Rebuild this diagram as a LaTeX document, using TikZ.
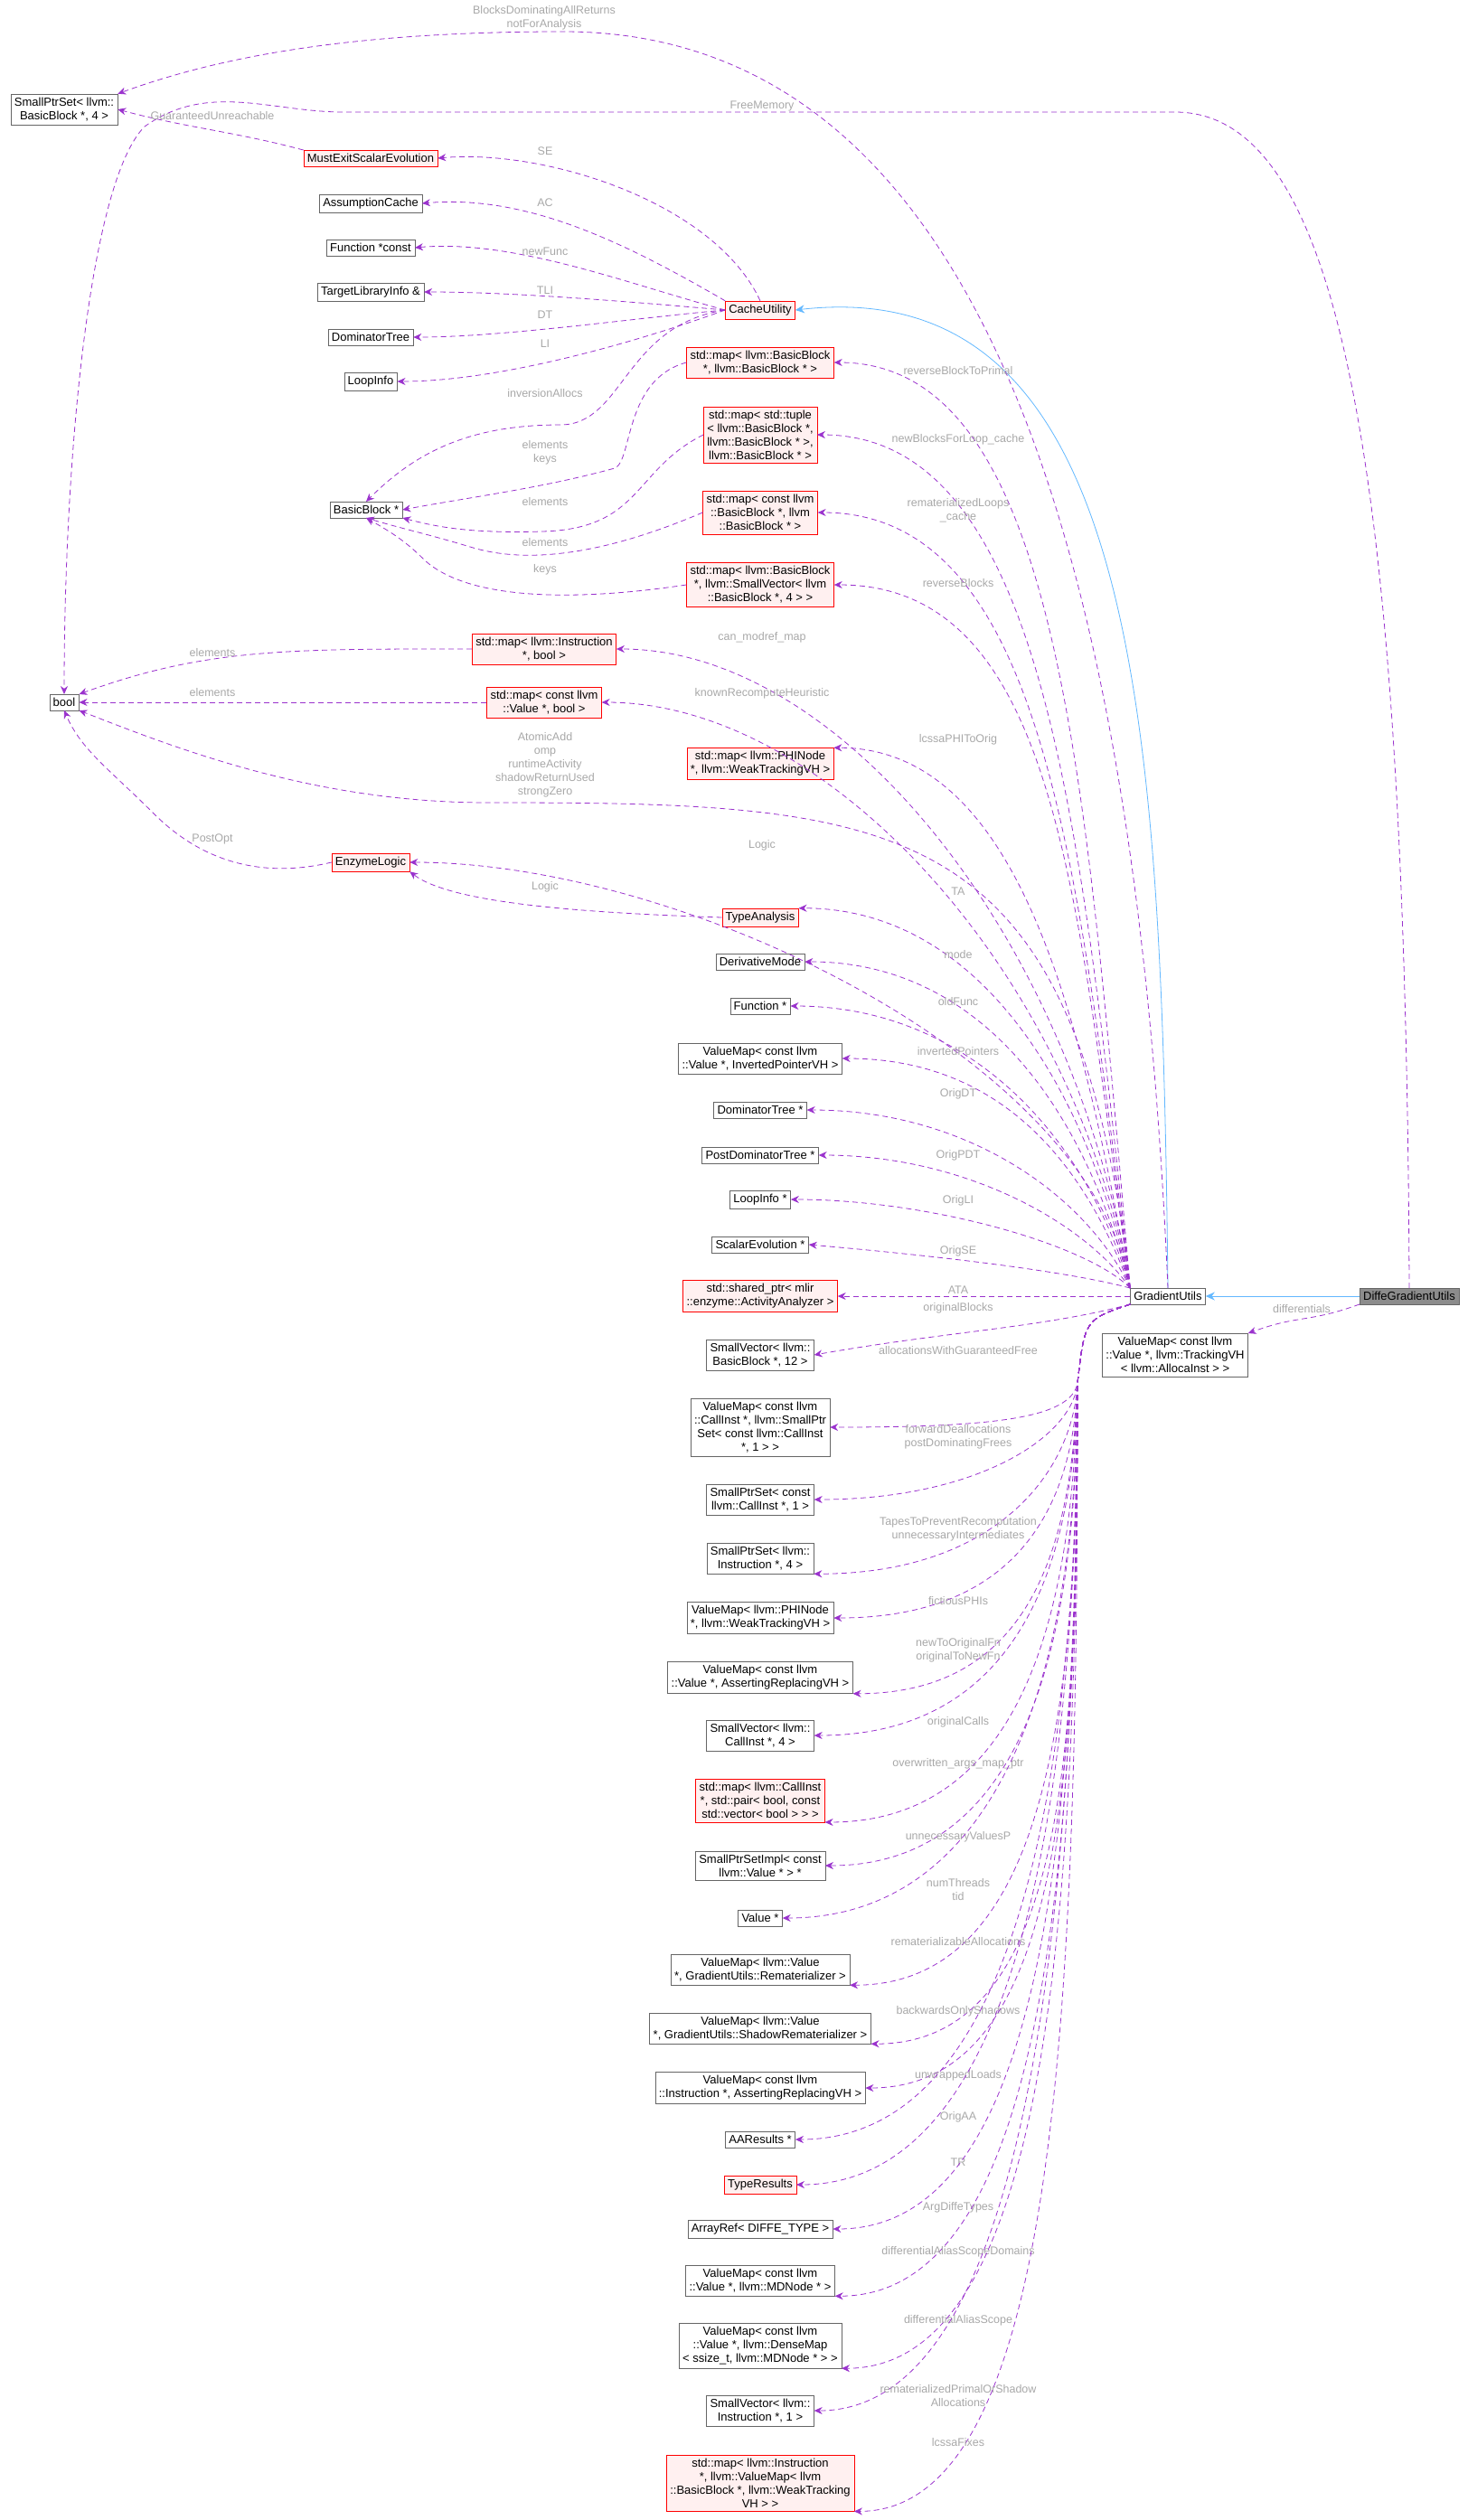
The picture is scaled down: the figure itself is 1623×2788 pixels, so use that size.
\documentclass[tikz,border=0pt]{standalone}
\usepackage{fontspec}
\setmainfont{Liberation Sans}
\usetikzlibrary{arrows.meta}
\definecolor{depcol}{HTML}{9A32CD}
\definecolor{inhcol}{HTML}{63B8FF}
\definecolor{lblcol}{HTML}{A8A8A8}
\definecolor{redfill}{HTML}{FFF0F0}
\tikzset{
  cls/.style={draw=black!60, fill=white, inner sep=4pt, align=center, font=\fontsize{13}{15}\selectfont},
  redcls/.style={cls, draw=red, fill=redfill},
  dep/.style={draw=depcol, dash pattern=on 6pt off 4pt, line width=0.8pt, -{Stealth[length=9pt,width=8pt]}},
  inh/.style={draw=inhcol, line width=0.8pt, -{Stealth[length=10pt,width=9pt]}},
  lbl/.style={text=lblcol, align=center, font=\fontsize{12.5}{15}\selectfont, inner sep=1pt}
}
\begin{document}
\begin{tikzpicture}[x=1pt,y=-1pt]
\useasboundingbox (0,0) rectangle (1623,2788);
% left column
\node[cls] (sps) at (71,121) {SmallPtrSet< llvm::\\BasicBlock *, 4 >};
\node[cls] (bool) at (71,777) {bool};
\node[redcls] (mustexit) at (410,175) {MustExitScalarEvolution};
\node[cls] (ac) at (410,225) {AssumptionCache};
\node[cls] (fconst) at (410,274) {Function *const};
\node[cls] (tli) at (410,323) {TargetLibraryInfo \&};
\node[cls] (dt) at (410,373) {DominatorTree};
\node[cls] (li) at (410,422) {LoopInfo};
\node[cls] (bb) at (405,564) {BasicBlock *};
\node[redcls] (enzlogic) at (410,954) {EnzymeLogic};
\node[redcls] (mapinst) at (602,718) {std::map< llvm::Instruction\\*, bool >};
\node[redcls] (mapval) at (602,777) {std::map< const llvm\\::Value *, bool >};
% middle column
\node[redcls] (cache) at (841,343) {CacheUtility};
\node[redcls] (mapbb) at (841,401) {std::map< llvm::BasicBlock\\*, llvm::BasicBlock * >};
\node[redcls] (maptuple) at (841,481) {std::map< std::tuple\\< llvm::BasicBlock *,\\llvm::BasicBlock * >,\\llvm::BasicBlock * >};
\node[redcls] (mapcbb) at (841,567) {std::map< const llvm\\::BasicBlock *, llvm\\::BasicBlock * >};
\node[redcls] (mapsv) at (841,647) {std::map< llvm::BasicBlock\\*, llvm::SmallVector< llvm\\::BasicBlock *, 4 > >};
\node[redcls] (mapphi) at (841,845) {std::map< llvm::PHINode\\*, llvm::WeakTrackingVH >};
\node[redcls] (ta) at (841,1015) {TypeAnalysis};
\node[cls] (dmode) at (841,1064) {DerivativeMode};
\node[cls] (func) at (841,1113) {Function *};
\node[cls] (vminv) at (841,1171) {ValueMap< const llvm\\::Value *, InvertedPointerVH >};
\node[cls] (dtp) at (841,1228) {DominatorTree *};
\node[cls] (pdtp) at (841,1278) {PostDominatorTree *};
\node[cls] (lip) at (841,1327) {LoopInfo *};
\node[cls] (sep) at (841,1377) {ScalarEvolution *};
\node[redcls] (ata) at (841,1434) {std::shared\_ptr< mlir\\::enzyme::ActivityAnalyzer >};
\node[cls] (svbb) at (841,1499) {SmallVector< llvm::\\BasicBlock *, 12 >};
\node[cls] (vmcall) at (841,1579) {ValueMap< const llvm\\::CallInst *, llvm::SmallPtr\\Set< const llvm::CallInst\\*, 1 > >};
\node[cls] (spscall) at (841,1659) {SmallPtrSet< const\\llvm::CallInst *, 1 >};
\node[cls] (spsinst) at (841,1724) {SmallPtrSet< llvm::\\Instruction *, 4 >};
\node[cls] (vmphi) at (841,1790) {ValueMap< llvm::PHINode\\*, llvm::WeakTrackingVH >};
\node[cls] (vmarv) at (841,1856) {ValueMap< const llvm\\::Value *, AssertingReplacingVH >};
\node[cls] (svcall) at (841,1920) {SmallVector< llvm::\\CallInst *, 4 >};
\node[redcls] (mappair) at (841,1992) {std::map< llvm::CallInst\\*, std::pair< bool, const\\std::vector< bool > > >};
\node[cls] (spsimpl) at (841,2064) {SmallPtrSetImpl< const\\llvm::Value * > *};
\node[cls] (valp) at (841,2122) {Value *};
\node[cls] (vmremat) at (841,2179) {ValueMap< llvm::Value\\*, GradientUtils::Rematerializer >};
\node[cls] (vmshadow) at (841,2244) {ValueMap< llvm::Value\\*, GradientUtils::ShadowRematerializer >};
\node[cls] (vminst) at (841,2310) {ValueMap< const llvm\\::Instruction *, AssertingReplacingVH >};
\node[cls] (aares) at (841,2367) {AAResults *};
\node[redcls] (tr) at (841,2417) {TypeResults};
\node[cls] (arrref) at (841,2466) {ArrayRef< DIFFE\_TYPE >};
\node[cls] (vmmd) at (841,2523) {ValueMap< const llvm\\::Value *, llvm::MDNode * >};
\node[cls] (vmdense) at (841,2595) {ValueMap< const llvm\\::Value *, llvm::DenseMap\\< ssize\_t, llvm::MDNode * > >};
\node[cls] (svinst) at (841,2667) {SmallVector< llvm::\\Instruction *, 1 >};
\node[redcls] (mapfix) at (841,2747) {std::map< llvm::Instruction\\*, llvm::ValueMap< llvm\\::BasicBlock *, llvm::WeakTracking\\VH > >};
% right
\node[cls] (gu) at (1292,1434) {GradientUtils};
\node[cls, fill=black!45] (dgu) at (1559,1434) {DiffeGradientUtils};
\node[cls] (vmtrack) at (1300,1499) {ValueMap< const llvm\\::Value *, llvm::TrackingVH\\< llvm::AllocaInst > >};
\coordinate (gubend) at (1192,1530);

% inheritance
\draw[inh] (dgu.west) -- (gu.east);
\draw[inh] (gu.north) .. controls (1285,800) and (1260,300) .. (cache.east);

% DiffeGradientUtils
\draw[dep] (dgu.north) .. controls (1555,500) and (1480,124) .. (1300,124) -- (380,124) .. controls (300,124) and (230,90) .. (160,140) .. controls (100,200) and (71,500) .. (bool.north);
\node[lbl] (l-free) at (843,117) {FreeMemory};
\draw[dep] (dgu.south west) .. controls +(-200:60) and +(-20:60) .. (vmtrack.north east);
\node[lbl] (l-diff) at (1440,1448) {differentials};

% CacheUtility
\draw[dep] (mustexit.north west) .. controls +(-165:80) and +(15:80) .. (sps.east);
\node[lbl] (l-gu) at (235,128) {GuaranteedUnreachable};
\draw[dep] (cache.north) .. controls +(-115:120) and +(-5:120) .. (mustexit.east);
\node[lbl] (l-se) at (603,167) {SE};
\draw[dep] (cache.north west) .. controls +(-150:120) and +(-5:120) .. (ac.east);
\node[lbl] (l-ac) at (603,224) {AC};
\draw[dep] (cache.west) .. controls +(-165:110) and +(-5:110) .. (fconst.east);
\node[lbl] (l-nf) at (603,278) {newFunc};
\draw[dep] (cache.west) .. controls +(-175:100) and +(0:100) .. (tli.east);
\node[lbl] (l-tli) at (603,321) {TLI};
\draw[dep] (cache.west) .. controls +(-185:100) and +(0:100) .. (dt.east);
\node[lbl] (l-dt) at (603,348) {DT};
\draw[dep] (cache.west) .. controls +(-200:110) and +(0:110) .. (li.east);
\node[lbl] (l-li) at (603,380) {LI};
\draw[dep] (cache.west) .. controls (690,360) and (690,470) .. (620,470) .. controls (520,470) and (460,500) .. (bb.north);
\node[lbl] (l-inv) at (603,435) {inversionAllocs};

% BasicBlock
\draw[dep] (mapbb.west) .. controls (690,420) and (700,510) .. (680,518) .. controls (600,540) and (520,550) .. (bb.east);
\node[lbl] (l-ek) at (603,501) {elements\\keys};
\draw[dep] (maptuple.west) .. controls (700,520) and (710,585) .. (600,588) .. controls (530,590) and (490,585) .. (bb.south east);
\node[lbl] (l-el1) at (603,555) {elements};
\draw[dep] (mapcbb.west) .. controls (700,600) and (600,630) .. (520,605) .. controls (470,590) and (445,585) .. (bb.south);
\node[lbl] (l-el2) at (603,600) {elements};
\draw[dep] (mapsv.west) .. controls (640,665) and (520,665) .. (470,620) .. controls (450,600) and (435,590) .. (bb.south);
\node[lbl] (l-keys) at (603,630) {keys};

% bool
\draw[dep] (mapinst.west) .. controls +(-180:200) and +(-20:150) .. (bool.north east);
\node[lbl] (l-el3) at (235,722) {elements};
\draw[dep] (mapval.west) -- (bool.east);
\node[lbl] (l-el4) at (235,766) {elements};
\draw[dep] (enzlogic.west) .. controls (300,970) and (230,960) .. (170,900) .. controls (120,850) and (90,830) .. (bool.south);
\node[lbl] (l-po) at (235,928) {PostOpt};
\draw[dep] (ta.west) .. controls (650,1010) and (500,1000) .. (enzlogic.south east);
\node[lbl] (l-lg2) at (603,981) {Logic};

% GradientUtils members above
\draw[dep] (gu.north) .. controls (1260,700) and (1120,35) .. (623,35) .. controls (400,35) and (250,60) .. (sps.north east);
\node[lbl] (l-bda) at (602,20) {BlocksDominatingAllReturns\\notForAnalysis};
\draw[dep] (gu.north west) .. controls +(-95:560) and +(0:250) .. (mapbb.east);
\node[lbl] (l-rbp) at (1060,410) {reverseBlockToPrimal};
\draw[dep] (gu.north west) .. controls +(-96:520) and +(0:250) .. (maptuple.east);
\node[lbl] (l-nbl) at (1060,486) {newBlocksForLoop\_cache};
\draw[dep] (gu.north west) .. controls +(-97:470) and +(0:250) .. (mapcbb.east);
\node[lbl] (l-rl) at (1060,565) {rematerializedLoops\\\_cache};
\draw[dep] (gu.north west) .. controls +(-98:425) and +(0:250) .. (mapsv.east);
\node[lbl] (l-rb) at (1060,645) {reverseBlocks};
\draw[dep] (gu.north west) .. controls +(-99:390) and +(0:250) .. (mapinst.east);
\node[lbl] (l-cmm) at (843,705) {can\_modref\_map};
\draw[dep] (gu.north west) .. controls +(-100:355) and +(0:250) .. (mapval.east);
\node[lbl] (l-krh) at (843,767) {knownRecomputeHeuristic};
\draw[dep] (gu.north west) .. controls +(-100:320) and +(0:200) .. (mapphi.north east);
\node[lbl] (l-lpo) at (1060,818) {lcssaPHIToOrig};
\draw[dep] (gu.north west) .. controls (1190,900) and (1000,888) .. (540,888) .. controls (350,888) and (200,830) .. (bool.south east);
\node[lbl] (l-aa) at (603,846) {AtomicAdd\\omp\\runtimeActivity\\shadowReturnUsed\\strongZero};
\draw[dep] (gu.north west) .. controls +(-100:260) and +(0:300) .. (enzlogic.east);
\node[lbl] (l-lg1) at (843,935) {Logic};
\draw[dep] (gu.north west) .. controls +(-102:225) and +(0:200) .. (ta.north east);
\node[lbl] (l-ta) at (1060,986) {TA};
\draw[dep] (gu.north west) .. controls +(-104:195) and +(0:200) .. (dmode.east);
\node[lbl] (l-mode) at (1060,1056) {mode};
\draw[dep] (gu.north west) .. controls +(-106:170) and +(0:200) .. (func.east);
\node[lbl] (l-of) at (1060,1108) {oldFunc};
\draw[dep] (gu.north west) .. controls +(-110:140) and +(0:180) .. (vminv.east);
\node[lbl] (l-ip) at (1060,1163) {invertedPointers};
\draw[dep] (gu.north west) .. controls +(-115:110) and +(0:180) .. (dtp.east);
\node[lbl] (l-odt) at (1060,1210) {OrigDT};
\draw[dep] (gu.north west) .. controls +(-125:90) and +(0:160) .. (pdtp.east);
\node[lbl] (l-opdt) at (1060,1278) {OrigPDT};
\draw[dep] (gu.north west) .. controls +(-135:70) and +(0:150) .. (lip.east);
\node[lbl] (l-oli) at (1060,1328) {OrigLI};
\draw[dep] (gu.north west) .. controls +(-165:80) and +(5:120) .. (sep.east);
\node[lbl] (l-ose) at (1060,1384) {OrigSE};
\draw[dep] (gu.west) -- (ata.east);
\node[lbl] (l-ata) at (1060,1427) {ATA};

% GradientUtils members below
\draw[dep] (gu.south west) .. controls +(-195:100) and +(-10:150) .. (svbb.east);
\node[lbl] (l-ob) at (1060,1447) {originalBlocks};
\draw[dep] (gu.south west) .. controls (1200,1460) .. (gubend) .. controls +(100:40) and +(0:180) .. (vmcall.east);
\node[lbl] (l-awg) at (1060,1494) {allocationsWithGuaranteedFree};
\draw[dep] (gu.south west) .. controls (1200,1460) .. (gubend) .. controls +(95:60) and +(0:180) .. (spscall.east);
\node[lbl] (l-fd) at (1060,1590) {forwardDeallocations\\postDominatingFrees};
\draw[dep] (gu.south west) .. controls (1200,1460) .. (gubend) .. controls +(93:100) and +(0:200) .. (spsinst.south east);
\node[lbl] (l-tp) at (1060,1692) {TapesToPreventRecomputation\\unnecessaryIntermediates};
\draw[dep] (gu.south west) .. controls (1200,1460) .. (gubend) .. controls +(92:140) and +(0:200) .. (vmphi.east);
\node[lbl] (l-fp) at (1060,1771) {fictiousPHIs};
\draw[dep] (gu.south west) .. controls (1200,1460) .. (gubend) .. controls +(92:175) and +(0:200) .. (vmarv.south east);
\node[lbl] (l-nto) at (1060,1826) {newToOriginalFn\\originalToNewFn};
\draw[dep] (gu.south west) .. controls (1200,1460) .. (gubend) .. controls +(91:210) and +(0:220) .. (svcall.east);
\node[lbl] (l-oc) at (1060,1905) {originalCalls};
\draw[dep] (gu.south west) .. controls (1200,1460) .. (gubend) .. controls +(91:250) and +(0:220) .. (mappair.south east);
\node[lbl] (l-ow) at (1060,1951) {overwritten\_args\_map\_ptr};
\draw[dep] (gu.south west) .. controls (1200,1460) .. (gubend) .. controls +(90:290) and +(0:220) .. (spsimpl.east);
\node[lbl] (l-uvp) at (1060,2032) {unnecessaryValuesP};
\draw[dep] (gu.south west) .. controls (1200,1460) .. (gubend) .. controls +(90:320) and +(0:240) .. (valp.east);
\node[lbl] (l-nt) at (1060,2091) {numThreads\\tid};
\draw[dep] (gu.south west) .. controls (1200,1460) .. (gubend) .. controls +(90:350) and +(0:220) .. (vmremat.south east);
\node[lbl] (l-ra) at (1060,2148) {rematerializableAllocations};
\draw[dep] (gu.south west) .. controls (1200,1460) .. (gubend) .. controls +(90:390) and +(0:220) .. (vmshadow.south east);
\node[lbl] (l-bos) at (1060,2225) {backwardsOnlyShadows};
\draw[dep] (gu.south west) .. controls (1200,1460) .. (gubend) .. controls +(90:425) and +(0:220) .. (vminst.east);
\node[lbl] (l-ul) at (1060,2296) {unwrappedLoads};
\draw[dep] (gu.south west) .. controls (1200,1460) .. (gubend) .. controls +(90:455) and +(0:240) .. (aares.east);
\node[lbl] (l-oaa) at (1060,2342) {OrigAA};
\draw[dep] (gu.south west) .. controls (1200,1460) .. (gubend) .. controls +(90:480) and +(0:240) .. (tr.east);
\node[lbl] (l-tr) at (1060,2392) {TR};
\draw[dep] (gu.south west) .. controls (1200,1460) .. (gubend) .. controls +(90:510) and +(0:230) .. (arrref.east);
\node[lbl] (l-adt) at (1060,2442) {ArgDiffeTypes};
\draw[dep] (gu.south west) .. controls (1200,1460) .. (gubend) .. controls +(90:540) and +(0:230) .. (vmmd.south east);
\node[lbl] (l-dasd) at (1060,2491) {differentialAliasScopeDomains};
\draw[dep] (gu.south west) .. controls (1200,1460) .. (gubend) .. controls +(90:580) and +(0:230) .. (vmdense.south east);
\node[lbl] (l-das) at (1060,2567) {differentialAliasScope};
\draw[dep] (gu.south west) .. controls (1200,1460) .. (gubend) .. controls +(90:620) and +(0:230) .. (svinst.east);
\node[lbl] (l-rpa) at (1060,2650) {rematerializedPrimalOrShadow\\Allocations};
\draw[dep] (gu.south west) .. controls (1200,1460) .. (gubend) .. controls +(90:665) and +(0:230) .. (mapfix.south east);
\node[lbl] (l-lf) at (1060,2702) {lcssaFixes};
\end{tikzpicture}
\end{document}
